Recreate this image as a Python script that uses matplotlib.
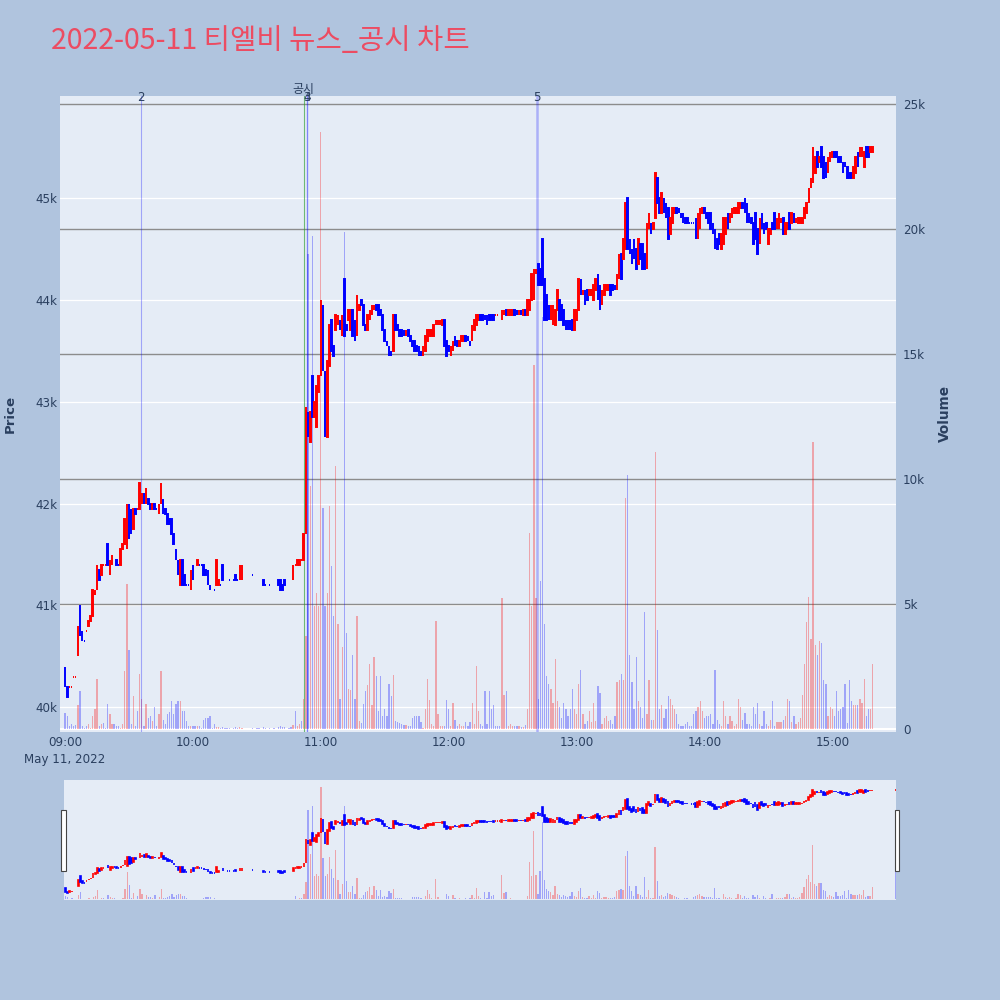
import numpy as np
import matplotlib
matplotlib.use("Agg")
import matplotlib.pyplot as plt
from matplotlib.patches import Rectangle
from matplotlib.transforms import blended_transform_factory

# ── data: 1-minute candles, list index = minutes after 09:00 ──────────────────
# prices in hundreds of won, None = no trade in that minute
N = None
OPEN_H = [
    404, 402, 402, 402, 403, 403, 405, 410, 407.5, 406.5,
    407.5, 408, 408.5, 409, 411, 411.5, 413.5, 413, 414, 414,
    416, 413, 414, 414.5, 414.5, 414, 414, 415.5, 416, 415.5,
    420, 419.5, 417.5, 419.5, 419.5, 419.5, 420, 421, 420, 420.5,
    420, 419.5, 420, 419.5, 419, 420, 420.5, 419.5, 419, 418.5,
    418.5, 417, 415.5, 414.5, 412, 414.5, 413, 412, 412, 411.5,
    414, 414, 414, 414, 414, 414, 413.5, 413.5, 412, 411.5,
    411.5, 412, 412, 412, 414, 412.5, 412.5, 412.5, N, 412.5,
    413, 412.5, 412.5, 412.5, N, N, N, N, 413, N,
    413, 413, N, 412.5, 412, N, 412, N, 412, N,
    412.5, 412.5, 412, 412.5, N, 412.5, 412.5, 412.5, 414, 414,
    414, 414.5, 414.5, 417, 429, 426, 432.5, 428.5, 427.5, 431,
    432.5, 439.5, 433, 426.5, 433.5, 438, 435.5, 437, 437.5, 438,
    436.5, 442, 437.5, 438, 437, 439, 438, 436.5, 439, 440,
    439.5, 437.5, 437, 438, 438.5, 439, 439.5, 439.5, 439, 438.5,
    437, 436, 435.5, 435, 435, 438.5, 437.5, 437, 437, 437,
    436.5, 437, 436.5, 436, 436, 435.5, 435.5, 435, 434.5, 435,
    436, 436.5, 436.5, 436.5, 437.5, 437.5, 437.5, 437.5, 438, 436,
    435.5, 434.5, 435, 436.5, 436, 435.5, 436, 436, 436.5, 436.5,
    436, 436, 437, 437.5, 438, 438.5, 438.5, 438.5, 438.5, 438.5,
    438.5, 438.5, 438.5, 438.5, 438.5, 438, 438.5, 439, 438.5, 438.5,
    438.5, 439, 439, 438.5, 439, 438.5, 439, 438.5, 439, 440,
    440, 442.5, 443.5, 443, 446, 442, 440.5, 439.5, 438, 437.5,
    437.5, 439, 440, 439.5, 439, 438, 438, 438, 438, 437,
    438, 439, 442, 440.5, 441, 441, 440.5, 440.5, 440, 441,
    442.5, 441.5, 439.5, 440.5, 441, 441, 441.5, 441.5, 441.5, 441,
    442, 444.5, 444, 445, 450, 446, 445, 446, 445, 443.5,
    445.5, 445.5, 444.5, 443, 447, 447.5, 447, 448, 452, 450,
    448.5, 450, 449.5, 449, 446.5, 447.5, 448.5, 449, 449, 448.5,
    448.5, 448, 448, 447.5, 447.5, 447.5, 448, 446, 447, 448.5,
    449, 448.5, 448.5, 448.5, 447.5, 447, 446, 446.5, 445, 445.5,
    446.5, 448.5, 447.5, 448, 448.5, 448.5, 448.5, 449, 449.5, 450,
    449.5, 448.5, 448, 447.5, 448.5, 447, 445.5, 448.5, 447.5, 447.5,
    445.5, 446.5, 447.5, 448.5, 447, 447, 447.5, 448, 446.5, 447,
    448.5, 447.5, 448.5, 447.5, 447.5, 447.5, 447.5, 448, 448.5, 449.5,
    451, 451.5, 452.5, 454.5, 453.5, 455, 454, 453.5, 452.5, 453.5,
    454, 454.5, 454.5, 454, 454, 453.5, 453.5, 453, 452.5, 452.5,
    452, 452.5, 454.5, 454, 454, 453, 455, 455, 454.5, 454.5,
]
CLOSE_H = [
    402, 401, 402, 402, 403, 403, 408, 407, 406.5, 406.5,
    407.5, 408.5, 409, 411.5, 411.5, 414, 412.5, 414, 414, 414,
    414, 414.5, 415, 414.5, 414, 414, 415.5, 416, 418.5, 420,
    416.5, 417, 419.5, 419, 419.5, 422, 421, 420, 421.5, 420,
    419.5, 420, 419.5, 419.5, 420, 422, 419, 419, 418, 418,
    417, 416, 414.5, 413, 414.5, 412, 412, 412, 412, 413.5,
    412.5, 414, 414.5, 414, 414, 413, 413, 412, 411.5, 411.5,
    411.5, 414.5, 412.5, 412, 412.5, 412.5, 412.5, 412.5, N, 412.5,
    412.5, 412.5, 414, 414, N, N, N, N, 413, N,
    413, 413, N, 412, 412, N, 412, N, 412, N,
    412, 411.5, 411.5, 412, N, 412.5, 412.5, 414, 414, 414.5,
    414.5, 414.5, 417, 429.5, 426.5, 429, 428.5, 430, 431.5, 432.5,
    440, 433, 426.5, 434, 437.5, 435, 434.5, 438.5, 438.5, 437,
    438.5, 436.5, 437, 439, 439, 436.5, 436, 440.5, 439.5, 439.5,
    437.5, 437, 438.5, 439, 439.5, 439.5, 439, 438.5, 438.5, 437,
    436, 435.5, 434.5, 434.5, 438.5, 437, 437, 436.5, 436.5, 436.5,
    437, 436.5, 436, 435.5, 435, 435, 434.5, 434.5, 435.5, 436.5,
    437, 437, 437, 437.5, 438, 438, 438, 438, 435.5, 434.5,
    435, 435.5, 436, 435.5, 435.5, 436, 436.5, 436.5, 436, 436,
    435.5, 437.5, 438, 438.5, 438.5, 438, 438, 438, 437.5, 438,
    438, 438, 438.5, 438.5, 438.5, 439, 439, 438.5, 439, 439,
    439, 438.5, 438.5, 439, 438.5, 439, 438.5, 440, 440, 442.5,
    443, 443, 441.5, 441.5, 441.5, 438, 438, 438, 439.5, 439.5,
    439, 441, 438, 438, 437.5, 437, 437, 437, 437, 439,
    439, 442, 440.5, 441, 439.5, 440, 441, 441, 441.5, 442,
    440, 439, 441, 441.5, 441.5, 441.5, 440.5, 441, 441, 442.5,
    444.5, 442, 446, 449.5, 445, 444.5, 443.5, 444, 443, 446,
    444, 443, 443, 447.5, 448.5, 446.5, 447.5, 452.5, 449.5, 448.5,
    450.5, 448.5, 448, 446, 448, 449, 449, 448.5, 448.5, 448,
    447.5, 447.5, 447.5, 447.5, 447.5, 447.5, 446, 448.5, 449, 449,
    448.5, 448, 447.5, 447, 446.5, 445, 445, 445.5, 446.5, 448,
    448, 447, 448.5, 449, 449, 449, 449.5, 449.5, 449, 448.5,
    447.5, 447.5, 447.5, 445.5, 446, 444.5, 448, 447, 446.5, 447,
    447, 447, 447, 447, 448, 448.5, 448, 446.5, 447.5, 447.5,
    447, 448.5, 447.5, 448, 448, 448, 448, 449, 449.5, 451,
    452, 455, 454, 453, 454, 453, 452, 452, 454, 454.5,
    454.5, 454, 454, 453.5, 453.5, 452.5, 453, 452, 452, 452,
    453, 454, 453, 455, 455, 454.5, 454, 454, 455, 455,
]
VOLUME = [
    650, 530, 100, 200, 100, 150, 950, 1530, 100, 50,
    100, 200, 50, 530, 780, 1980, 100, 200, 250, 50,
    980, 600, 200, 200, 100, 120, 50, 200, 2300, 5800,
    3140, 200, 1310, 120, 700, 2190, 1200, 120, 980, 450,
    500, 300, 860, 120, 600, 2300, 350, 200, 600, 660,
    1110, 600, 980, 1110, 1110, 700, 700, 300, 100, 120,
    120, 100, 100, 120, 50, 350, 450, 450, 530, 50,
    200, 80, 80, 50, 60, 40, 50, 30, 0, 40,
    60, 30, 80, 50, 0, 0, 0, 0, 40, 0,
    50, 40, 0, 60, 30, 0, 40, 0, 30, 0,
    80, 120, 60, 90, 0, 50, 60, 150, 700, 120,
    200, 300, 1200, 3700, 19000, 9700, 19700, 4930, 5430, 4930,
    23870, 8840, 4930, 5430, 8900, 6510, 4520, 10500, 4190, 1200,
    3270, 19880, 3850, 1600, 1550, 2940, 1200, 4520, 300, 250,
    1000, 1500, 1740, 2600, 950, 2860, 2100, 700, 2100, 530,
    780, 530, 1780, 1310, 2140, 300, 280, 250, 200, 150,
    150, 120, 100, 450, 500, 530, 530, 280, 50, 780,
    1980, 1150, 200, 100, 4300, 600, 120, 100, 100, 1150,
    780, 100, 1030, 370, 100, 200, 100, 120, 280, 100,
    280, 1030, 200, 2520, 700, 200, 100, 1530, 200, 1530,
    780, 950, 100, 100, 100, 5230, 1360, 1530, 120, 200,
    100, 120, 100, 100, 80, 80, 150, 780, 7840, 4930,
    14570, 5230, 1200, 5930, 16480, 4190, 2110, 1780, 1610, 1030,
    2800, 1100, 860, 450, 1030, 780, 530, 780, 1610, 800,
    600, 1780, 2360, 600, 200, 300, 700, 280, 1030, 300,
    1700, 1450, 200, 450, 530, 300, 370, 200, 500, 1860,
    1940, 2190, 1940, 9250, 10170, 2940, 1860, 780, 2860, 1110,
    860, 450, 4680, 600, 1940, 370, 370, 11080, 3970, 780,
    950, 450, 780, 1310, 1200, 950, 780, 600, 200, 120,
    100, 200, 280, 120, 100, 600, 700, 860, 1110, 700,
    450, 530, 530, 600, 200, 2360, 370, 200, 100, 1110,
    530, 200, 530, 300, 100, 200, 1200, 860, 370, 650,
    200, 200, 100, 860, 600, 1030, 200, 120, 700, 200,
    120, 370, 1110, 120, 280, 280, 280, 370, 530, 1200,
    1110, 280, 530, 200, 280, 450, 1360, 2600, 4270, 5270,
    3600, 11490, 3350, 2940, 3520, 3440, 1940, 1780, 530, 860,
    780, 530, 1530, 700, 780, 860, 1780, 250, 1940, 1110,
    950, 950, 950, 1200, 1030, 1980, 530, 800, 800, 2600,
]

# closing auction
AUCTION_TIME = "15:30"
AUCTION_OPEN_H = 455
AUCTION_CLOSE_H = 455
AUCTION_VOLUME = 10000

# news / disclosure markers
EVENT_LABELS = ["2", "공시", "3", "4", "5"]
EVENT_TIMES = ["09:35:40", "10:51:55", "10:53:20", "10:53:30", "12:41:25"]

PRICE_TICKS = [40000, 41000, 42000, 43000, 44000, 45000]
PRICE_TICK_LABELS = ["40k", "41k", "42k", "43k", "44k", "45k"]
VOLUME_TICKS = [0, 5000, 10000, 15000, 20000, 25000]
VOLUME_TICK_LABELS = ["0", "5k", "10k", "15k", "20k", "25k"]
TIME_TICKS = ["09:00", "10:00", "11:00", "12:00", "13:00", "14:00", "15:00"]
DATE_LABEL = "May 11, 2022"
TITLE = "2022-05-11 티엘비 뉴스_공시 차트"

# ── style ─────────────────────────────────────────────────────────────────────
OUTER_BG = "#b0c4de"
PLOT_BG = "#e5ecf6"
FONT_COLOR = "#2a3f5f"
UP, DOWN = "#ff0000", "#0000ff"
EVENT_STYLE = {
    "2": ("#0000ff", 0.30, 0.8),
    "공시": ("#2e9e2e", 0.65, 0.8),
    "3": ("#0000ff", 0.30, 1.0),
    "4": ("#0000ff", 0.20, 0.8),
    "5": ("#0000ff", 0.25, 1.8),
}
PRICE_LIM = (39758, 46001)
VOL_LIM = (-120, 25308)
X_LIM_MAIN = (-2.4, 389.9)
X_LIM_SLIDER = (-0.7, 390.2)

plt.rcParams["font.family"] = ["DejaVu Sans", "Noto Sans CJK KR"]


def to_minutes(t):
    parts = [int(p) for p in t.split(":")]
    sec = parts[2] if len(parts) > 2 else 0
    return (parts[0] - 9) * 60 + parts[1] + sec / 60.0


# assemble series
xs, opens, closes, vols = [], [], [], []
for i, (o, c, v) in enumerate(zip(OPEN_H, CLOSE_H, VOLUME)):
    if o is None:
        continue
    xs.append(i)
    opens.append(o * 100)
    closes.append(c * 100)
    vols.append(v)
xs.append(to_minutes(AUCTION_TIME))
opens.append(AUCTION_OPEN_H * 100)
closes.append(AUCTION_CLOSE_H * 100)
vols.append(AUCTION_VOLUME)
xs, opens, closes, vols = map(np.array, (xs, opens, closes, vols))

# candle direction (doji -> compare with previous close, else keep direction)
up = []
prev_c, prev_up = None, True
for o, c in zip(opens, closes):
    if c > o:
        d = True
    elif c < o:
        d = False
    elif prev_c is not None and c != prev_c:
        d = c > prev_c
    else:
        d = prev_up
    up.append(d)
    prev_c, prev_up = c, d
up = np.array(up)
candle_colors = np.where(up, UP, DOWN)
vol_colors = np.where(closes > opens, UP, DOWN)


def draw_traces(ax_vol, ax_px, lw):
    ax_vol.bar(xs, vols, width=0.6, color=vol_colors, alpha=0.3,
               linewidth=0, zorder=2)
    lo = np.minimum(opens, closes)
    h = np.maximum(np.abs(closes - opens), 1)
    ax_px.bar(xs, h, bottom=lo, width=0.3, color=candle_colors,
              edgecolor=candle_colors, linewidth=lw, zorder=3)


def clean(ax):
    for s in ax.spines.values():
        s.set_visible(False)
    ax.tick_params(length=0)


fig = plt.figure(figsize=(10, 10), dpi=100)
fig.patch.set_facecolor(OUTER_BG)

# ── main panel ────────────────────────────────────────────────────────────────
ax_bg = fig.add_axes([0.060, 0.268, 0.836, 0.636])
ax_bg.set_facecolor(PLOT_BG)
ax_bg.set_xlim(*X_LIM_MAIN)
ax_bg.set_ylim(*PRICE_LIM)
ax_bg.set_yticks(PRICE_TICKS)
ax_bg.set_yticklabels(PRICE_TICK_LABELS)
ax_bg.grid(axis="y", color="white", linewidth=0.9)
ax_bg.set_axisbelow(True)
tick_pos = [to_minutes(t) for t in TIME_TICKS]
tick_lab = list(TIME_TICKS)
tick_lab[0] = TIME_TICKS[0] + "\n" + DATE_LABEL
ax_bg.set_xticks(tick_pos)
ax_bg.set_xticklabels(tick_lab, linespacing=1.35)
ax_bg.tick_params(axis="both", labelsize=8.6, labelcolor=FONT_COLOR)
ax_bg.tick_params(axis="y", pad=1.5)
ax_bg.tick_params(axis="x", pad=3)
clean(ax_bg)

ax_vol = ax_bg.twinx()
ax_vol.set_ylim(*VOL_LIM)
ax_vol.set_yticks(VOLUME_TICKS)
ax_vol.set_yticklabels(VOLUME_TICK_LABELS)
ax_vol.tick_params(axis="y", labelsize=8.6, labelcolor=FONT_COLOR, pad=5)
for v in VOLUME_TICKS[1:]:
    ax_vol.axhline(v, color="#8c8c8c", linewidth=1.0, zorder=1)
ax_vol.axhline(0, color="white", linewidth=1.5, zorder=1)
clean(ax_vol)

ax_px = ax_bg.twinx()
ax_px.set_ylim(*PRICE_LIM)
ax_px.set_yticks([])
clean(ax_px)

draw_traces(ax_vol, ax_px, lw=1.4)

# event markers
trans = blended_transform_factory(ax_px.transData, ax_px.transAxes)
for lab, t in zip(EVENT_LABELS, EVENT_TIMES):
    x = to_minutes(t)
    col, alpha, lw = EVENT_STYLE[lab]
    ax_px.axvline(x, color=col, alpha=alpha, linewidth=lw, zorder=2.5)
    y = 1.0095 if lab == "공시" else 0.998
    fam = ["Noto Sans CJK KR"] if lab == "공시" else ["DejaVu Sans"]
    ax_px.text(x, y, lab, transform=trans, ha="center", va="center",
               fontsize=8.6, color=FONT_COLOR, family=fam, clip_on=False,
               zorder=6)

# axis titles and chart title
fig.text(0.010, 0.586, "Price", rotation=90, ha="center", va="center",
         fontsize=9.6, fontweight="bold", color=FONT_COLOR)
fig.text(0.945, 0.586, "Volume", rotation=90, ha="center", va="center",
         fontsize=9.8, fontweight="bold", color=FONT_COLOR)
fig.text(0.051, 0.959, TITLE, ha="left", va="center", fontsize=20.6,
         color="#ec4c62", family=["Noto Sans CJK KR"])

# ── range slider ──────────────────────────────────────────────────────────────
sl_bg = fig.add_axes([0.064, 0.100, 0.832, 0.120])
sl_bg.set_facecolor(PLOT_BG)
sl_bg.set_xlim(*X_LIM_SLIDER)
sl_bg.set_ylim(*PRICE_LIM)
sl_bg.set_xticks([])
sl_bg.set_yticks([])
clean(sl_bg)
sl_vol = sl_bg.twinx()
sl_vol.set_ylim(*VOL_LIM)
sl_vol.set_yticks([])
clean(sl_vol)
sl_px = sl_bg.twinx()
sl_px.set_ylim(*PRICE_LIM)
sl_px.set_yticks([])
clean(sl_px)
draw_traces(sl_vol, sl_px, lw=1.2)

for x0 in (0.0613, 0.8945):
    fig.add_artist(Rectangle((x0, 0.129), 0.0044, 0.061,
                             transform=fig.transFigure, facecolor="white",
                             edgecolor="#444444", linewidth=0.8, zorder=10))

fig.savefig("out.png", dpi=100, facecolor=OUTER_BG)
